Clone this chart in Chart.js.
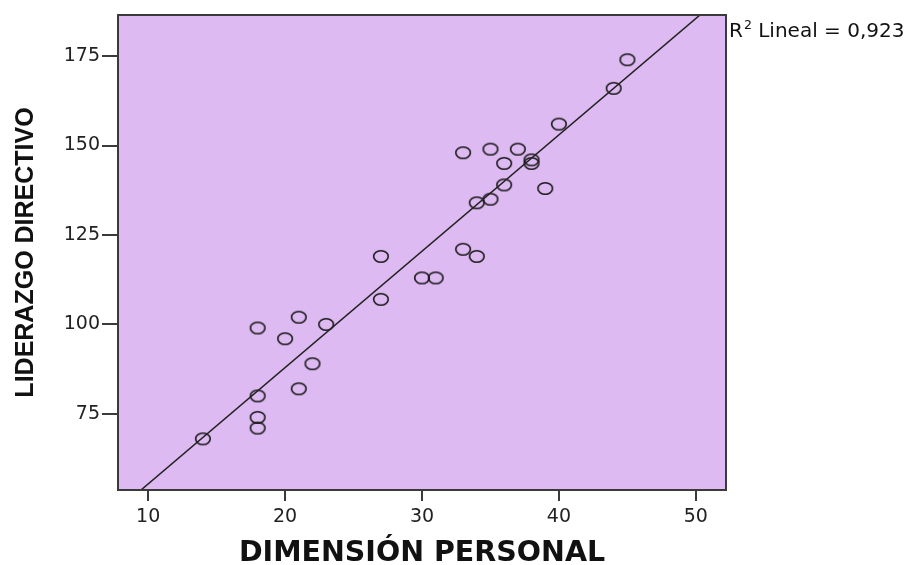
<!DOCTYPE html>
<html>
<head>
<meta charset="utf-8">
<script src="https://cdn.jsdelivr.net/npm/chart.js@4"></script>
<style>
  html, body { margin: 0; padding: 0; background: #fff; }
  #wrap { width: 912px; height: 565px; }
</style>
</head>
<body>
<div id="wrap"><canvas id="scatter" width="912" height="565"></canvas></div>
<script>
// values
const personal = [14, 18, 18, 18, 18, 20, 21, 21, 22, 23, 27, 27, 30, 31, 33, 33, 34, 34, 35, 35, 36, 36, 37, 38, 38, 39, 40, 44, 45];
const liderazgo = [68, 99, 80, 74, 71, 96, 102, 82, 89, 100, 119, 107, 113, 113, 121, 148, 119, 134, 135, 149, 145, 139, 149, 146, 145, 138, 156, 166, 174];
const xTicks = [10, 20, 30, 40, 50];
const yTicks = [75, 100, 125, 150, 175];
const fitLabel = 'Lineal = 0,923';

// least squares fit, like SPSS adds for the R2 line
function linearFit(xs, ys) {
  const n = xs.length;
  const mx = xs.reduce((s, v) => s + v, 0) / n;
  const my = ys.reduce((s, v) => s + v, 0) / n;
  let sxy = 0, sxx = 0;
  for (let i = 0; i < n; i++) {
    sxy += (xs[i] - mx) * (ys[i] - my);
    sxx += (xs[i] - mx) ** 2;
  }
  const b = sxy / sxx;
  return { a: my - b * mx, b };
}

const fit = linearFit(personal, liderazgo);
const fitLine = [7.8, 52.2].map(x => ({ x, y: fit.a + fit.b * x }));

// slightly wide open circle, the way the picture draws them
function ringMarker() {
  const c = document.createElement('canvas');
  c.width = 18; c.height = 15;
  const g = c.getContext('2d');
  g.strokeStyle = '#1a1a1a';
  g.lineWidth = 1.6;
  g.beginPath();
  g.ellipse(9, 7.5, 7.3, 5.7, 0, 0, Math.PI * 2);
  g.stroke();
  return c;
}

const plotFrame = {
  id: 'plotFrame',
  beforeDatasetsDraw(chart) {
    const { ctx, chartArea: a } = chart;
    ctx.save();
    ctx.fillStyle = '#debaf2';
    ctx.fillRect(a.left, a.top, a.right - a.left, a.bottom - a.top);
    ctx.restore();
  },
  afterDraw(chart) {
    const { ctx, chartArea: a } = chart;
    ctx.save();
    ctx.strokeStyle = '#3a3a3a';
    ctx.lineWidth = 2;
    ctx.strokeRect(a.left, a.top, a.right - a.left, a.bottom - a.top);
    // R2 label
    ctx.fillStyle = '#111';
    ctx.textBaseline = 'alphabetic';
    ctx.font = '20px "DejaVu Sans", sans-serif';
    let x = a.right + 3;
    const y = 37;
    ctx.fillText('R', x, y);
    x += ctx.measureText('R').width + 1;
    ctx.font = '12.5px "DejaVu Sans", sans-serif';
    ctx.fillText('2', x, y - 8);
    x += ctx.measureText('2').width;
    ctx.font = '20px "DejaVu Sans", sans-serif';
    ctx.fillText(' ' + fitLabel, x, y);
    ctx.restore();
  }
};

const axisColor = '#3a3a3a';
const tickFont = { family: '"DejaVu Sans", sans-serif', size: 19 };

new Chart(document.getElementById('scatter'), {
  type: 'scatter',
  data: {
    datasets: [
      {
        label: 'Lineal',
        type: 'line',
        data: fitLine,
        borderColor: '#222',
        borderWidth: 1.5,
        pointRadius: 0,
        fill: false
      },
      {
        label: 'Liderazgo',
        data: personal.map((x, i) => ({ x, y: liderazgo[i] })),
        pointStyle: ringMarker(),
        pointRadius: 7
      }
    ]
  },
  options: {
    responsive: false,
    animation: false,
    layout: { padding: { top: 15, right: 186, left: 0, bottom: 0 } },
    plugins: {
      legend: { display: false },
      tooltip: { enabled: false }
    },
    scales: {
      x: {
        type: 'linear',
        min: 7.8,
        max: 52.2,
        afterBuildTicks: s => { s.ticks = xTicks.map(v => ({ value: v })); },
        afterFit: s => { s.height = 75; },
        grid: { drawOnChartArea: false, tickLength: 11, color: axisColor, lineWidth: 2 },
        border: { color: axisColor, width: 2 },
        ticks: { font: tickFont, color: '#222', padding: 5 },
        title: {
          display: true,
          text: 'DIMENSIÓN PERSONAL',
          font: { family: '"DejaVu Sans", sans-serif', size: 28.5, weight: 'bold', lineHeight: 0.8 },
          color: '#111',
          padding: { top: 0, bottom: 0 }
        }
      },
      y: {
        type: 'linear',
        min: 53.7,
        max: 186.5,
        afterBuildTicks: s => { s.ticks = yTicks.map(v => ({ value: v })); },
        afterFit: s => { s.width = 118; },
        grid: { drawOnChartArea: false, tickLength: 16, color: axisColor, lineWidth: 2 },
        border: { color: axisColor, width: 2 },
        ticks: { font: tickFont, color: '#222', padding: 2 },
        title: {
          display: true,
          text: 'LIDERAZGO DIRECTIVO',
          font: { family: '"Liberation Sans", Arial, sans-serif', size: 25, weight: 'bold' },
          color: '#111',
          padding: { top: 11, bottom: 0 }
        }
      }
    }
  },
  plugins: [plotFrame]
});
</script>
</body>
</html>
